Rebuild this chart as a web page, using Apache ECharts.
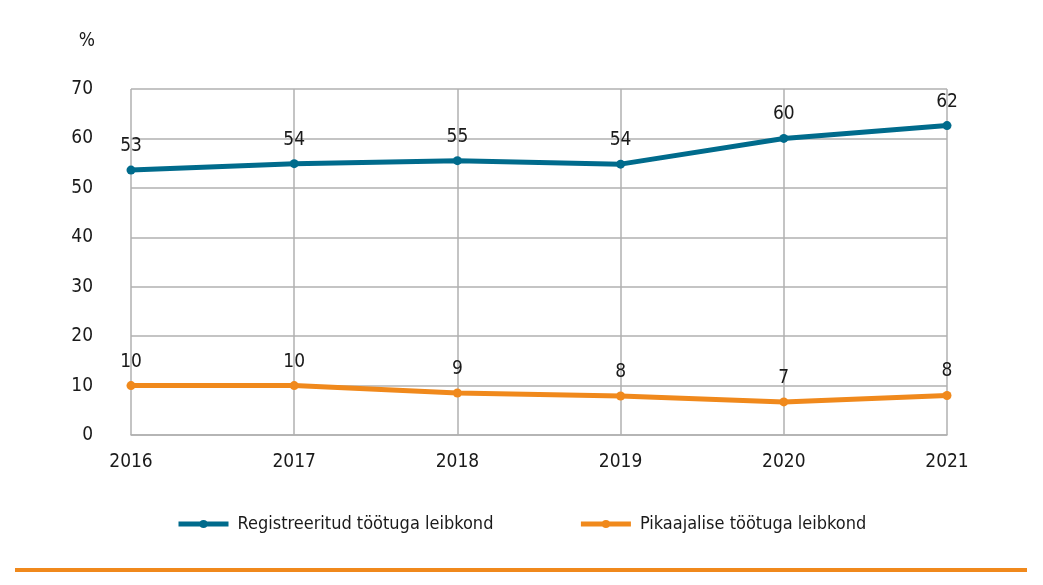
<!DOCTYPE html>
<html><head><meta charset="utf-8">
<script src="https://cdn.jsdelivr.net/npm/echarts@6/dist/echarts.min.js"></script>
<style>html,body{margin:0;padding:0;background:#fff}#c{width:1043px;height:585px}</style>
</head><body><div id="c"></div>
<script>
const years = ['2016','2017','2018','2019','2020','2021'];
const registered = [53.6, 54.9, 55.5, 54.8, 60.0, 62.6];
const registeredLabels = ['53','54','55','54','60','62'];
const longTerm = [10.0, 10.0, 8.5, 7.9, 6.7, 8.0];
const longTermLabels = ['10','10','9','8','7','8'];
const yTicks = [0,10,20,30,40,50,60,70];

const FONT = '"Liberation Sans Narrow","DejaVu Sans Condensed","Noto Sans",sans-serif';
const chart = echarts.init(document.getElementById('c'), null, {renderer:'canvas'});
chart.setOption({
  animation:false,
  textStyle:{fontFamily:FONT},
  grid:{left:131, right:96, top:89, bottom:150},
  legend:{
    top:515, left:176, padding:0, itemGap:85, itemWidth:50, itemHeight:10,
    lineStyle:{width:5}, itemStyle:{borderWidth:0},
    textStyle:{fontFamily:FONT, fontSize:18, color:'#1a1a1a', padding:[0,0,0,4]},
    data:['Registreeritud töötuga leibkond','Pikaajalise töötuga leibkond']
  },
  xAxis:{
    type:'category', data:years, boundaryGap:false,
    axisLine:{lineStyle:{color:'#b0b0b0', width:1.5}},
    axisTick:{show:false},
    axisLabel:{fontFamily:FONT, fontSize:19, color:'#1a1a1a', margin:18},
    splitLine:{show:true, lineStyle:{color:'#b0b0b0', width:1.5}}
  },
  yAxis:{
    type:'value', min:yTicks[0], max:yTicks[yTicks.length-1], interval:10,
    name:'%', nameLocation:'end', nameGap:38,
    nameTextStyle:{fontFamily:FONT, fontSize:19, color:'#1a1a1a', align:'right', padding:[0,36,0,0]},
    axisLine:{show:false}, axisTick:{show:false},
    axisLabel:{fontFamily:FONT, fontSize:19, color:'#1a1a1a', margin:38},
    splitLine:{lineStyle:{color:'#b0b0b0', width:1.5}}
  },
  series:[
    {name:'Registreeritud töötuga leibkond', type:'line', data:registered,
     symbol:'circle', symbolSize:9, color:'#006b8c',
     lineStyle:{width:5, color:'#006b8c'}, itemStyle:{color:'#006b8c'},
     label:{show:true, position:'top', distance:10, fontFamily:FONT, fontSize:19, color:'#1a1a1a',
       formatter:p=>registeredLabels[p.dataIndex]}},
    {name:'Pikaajalise töötuga leibkond', type:'line', data:longTerm,
     symbol:'circle', symbolSize:9, color:'#f0891c',
     lineStyle:{width:5, color:'#f0891c'}, itemStyle:{color:'#f0891c'},
     label:{show:true, position:'top', distance:10, fontFamily:FONT, fontSize:19, color:'#1a1a1a',
       formatter:p=>longTermLabels[p.dataIndex]}}
  ],
  graphic:[{type:'rect', shape:{x:15, y:568, width:1012, height:4}, style:{fill:'#f0891c'}}]
});
</script></body></html>
